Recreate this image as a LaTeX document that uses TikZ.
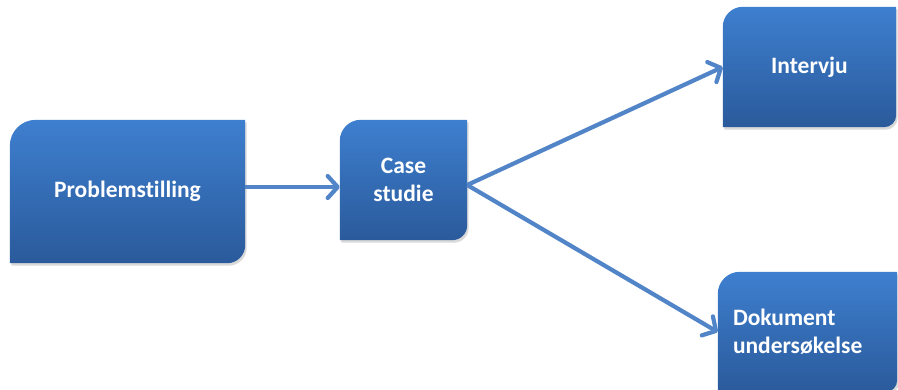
\documentclass[tikz,border=0pt]{standalone}
\usepackage{fontspec}
\setmainfont{Carlito}[Ligatures=NoCommon]
\usetikzlibrary{arrows.meta,calc,backgrounds,shadows}
\definecolor{boxtop}{RGB}{62,127,207}
\definecolor{boxbot}{RGB}{42,90,155}
\definecolor{flow}{RGB}{82,133,199}
\tikzset{
  stepbox/.style={inner sep=0pt, text=white, align=center,
    font=\fontsize{23.5}{28}\selectfont\bfseries},
  flowarrow/.style={draw=flow, line width=4.2pt, line join=round,
    -{Straight Barb[length=10pt,width=22pt,round]}},
  boxfill/.style={top color=boxtop, bottom color=boxbot,
    drop shadow={shadow xshift=1.5pt, shadow yshift=-2.5pt, opacity=0.3}},
}
% box with a rounded top-left and a rounded bottom-right corner
\newcommand\diagbox[3]{%
  \path[boxfill] (#1.south west)
    -- ($(#1.north west)+(0,-#2)$) arc[start angle=180, end angle=90, radius=#2]
    -- (#1.north east)
    -- ($(#1.south east)+(0,#3)$) arc[start angle=0, end angle=-90, radius=#3]
    -- cycle;}
\begin{document}
\begin{tikzpicture}[x=1pt,y=1pt]
  \useasboundingbox (0,0) rectangle (898,389);
  \clip (0,0) rectangle (898,389);

  \node[stepbox, minimum width=235pt, minimum height=143pt] (prob) at (127.5,197.5) {Problemstilling};
  \node[stepbox, minimum width=127pt, minimum height=120pt] (case) at (403.5,209) {Case\\studie};
  \node[stepbox, minimum width=173pt, minimum height=120pt] (intv) at (809.5,322) {Intervju};
  \node[stepbox, minimum width=179pt, minimum height=120pt, text width=149pt, align=left] (dok) at (807.5,57) {Dokument\\undersøkelse};

  \begin{pgfonlayer}{background}
    \diagbox{prob}{26pt}{18pt}
    \diagbox{case}{21pt}{15pt}
    \diagbox{intv}{20pt}{12pt}
    \diagbox{dok}{22pt}{12pt}
  \end{pgfonlayer}

  \coordinate (a1) at ([yshift=4.5pt]prob.east);
  \draw[flowarrow] (a1) -- (a1 -| case.west);
  \coordinate (fork) at ([yshift=-5pt]case.east);
  \draw[flowarrow] (fork) -- (intv.west);
  \draw[flowarrow] (fork) -- (dok.west);
\end{tikzpicture}
\end{document}
